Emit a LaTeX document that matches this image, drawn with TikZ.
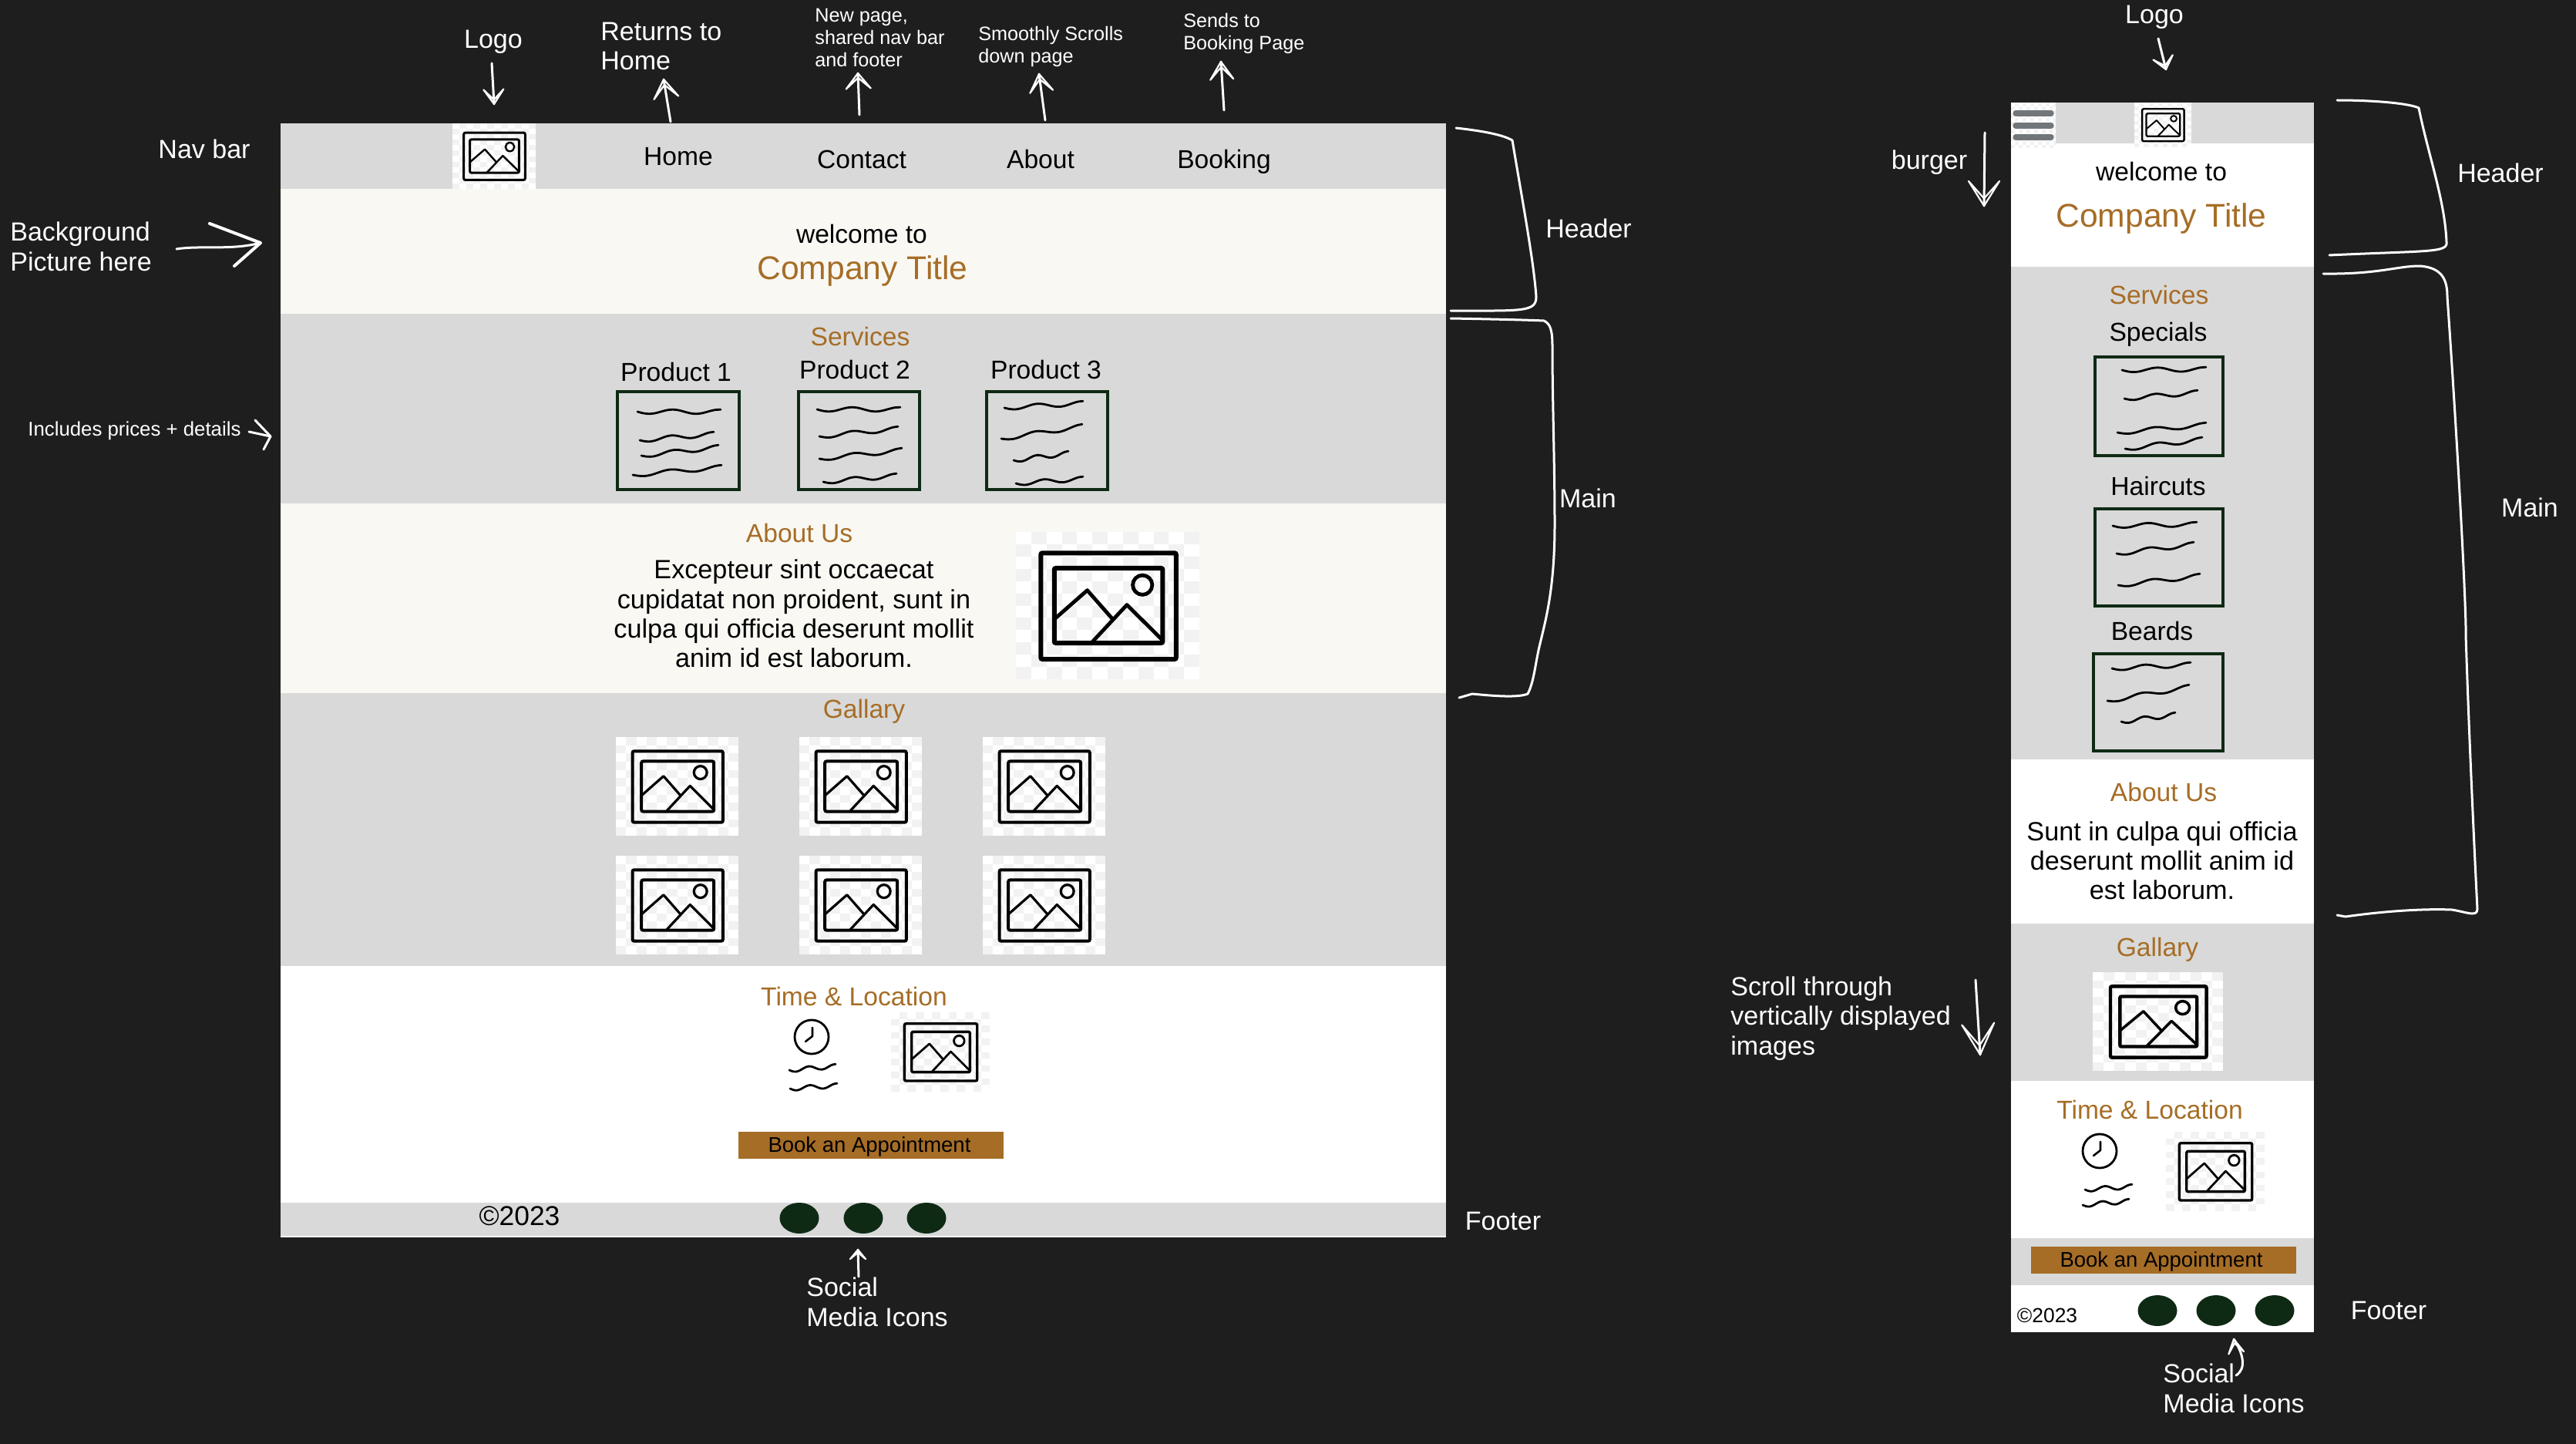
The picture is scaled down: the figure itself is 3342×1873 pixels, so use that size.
\documentclass[tikz,border=0pt]{standalone}
\usepackage{fontspec}
\setmainfont{Liberation Sans}

\definecolor{board}{HTML}{1E1E1E}
\definecolor{band}{HTML}{D9D9D9}
\definecolor{cream}{HTML}{F9F8F3}
\definecolor{brown}{HTML}{A66D26}
\definecolor{leaf}{HTML}{0F2A14}
\definecolor{burgergray}{HTML}{71767A}
\definecolor{checker}{HTML}{F2F2F2}

% placeholder picture: corners of the checker, then line width
\newcommand{\imgicon}[5]{%
	\begin{scope}[shift={(#1,#2)},xscale=#3-#1,yscale=#4-#2]
		\fill[white] (0,0) rectangle (1,1);
		\foreach \i in {0,...,11}{\foreach \j in {0,...,11}{%
			\ifodd\numexpr\i+\j\relax
				\fill[checker] (\i/12,\j/12) rectangle ++(1/12,1/12);
			\fi}}
		\draw[line width=#5, rounded corners=1pt] (.136,.143) rectangle (.873,.864);
		\draw[line width=#5, rounded corners=1pt] (.209,.246) rectangle (.80,.754);
		\draw[line width=.8*#5] (.69,.36) circle [x radius=.053, y radius=.066];
		\draw[line width=.8*#5, line join=round] (.209,.593) -- (.389,.396) -- (.528,.593);
		\draw[line width=.8*#5, line join=round] (.411,.754) -- (.605,.495) -- (.80,.736);
	\end{scope}}
% hand written line inside the text boxes
\newcommand{\squig}[4]{%
	\draw[line width=1.4pt, line cap=round] plot[smooth, samples=15, domain=0:1, variable=\t]
		({#1+(#3-#1)*\t},{#2+(#4-#2)*\t+2.8*sin(640*\t)});}
\newcommand{\clockicon}[2]{%
	\draw[line width=1.4pt] (#1,#2) circle [radius=22];
	\draw[line width=1.3pt, line cap=round, line join=round] (#1+1,#2-12) -- (#1+1,#2-1) -- (#1-8,#2+6);}
% hollow hand drawn arrow head: end point, direction, length, half width
\newcommand{\handtip}[4]{%
	\begin{scope}[shift={(#1)},rotate=#2]
		\draw[sketch, line width=1.1pt] (-#3,#4) -- (0,0) -- (-#3,-#4) -- (-.3*#3,0) -- cycle;
	\end{scope}}

\begin{document}
\begin{tikzpicture}[x=.5pt, y=-.5pt,
	oneline/.style={text height=1.26em, text depth=.18em},
	noteblock/.style={text=white, inner sep=0, align=left, font=\fontsize{17}{19.3}\selectfont},
	note/.style={noteblock, oneline},
	tinynote/.style={noteblock, font=\fontsize{12.6}{14.5}\selectfont},
	bodyblock/.style={text=black, inner sep=0, align=center, font=\fontsize{17.1}{19.1}\selectfont},
	body/.style={bodyblock, oneline, font=\fontsize{16.8}{19}\selectfont},
	heading/.style={body, text=brown},
	title/.style={body, text=brown, font=\fontsize{21.3}{24}\selectfont},
	button/.style={body, font=\fontsize{13.75}{16}\selectfont},
	textbox/.style={draw=leaf, line width=2pt},
	social/.style={fill=leaf},
	sketch/.style={draw=white, line width=1.5pt, line cap=round, line join=round}]
	\useasboundingbox[fill=board] (0,0) rectangle (3342,1873);

	% desktop page
	\fill[band] (364,160) rectangle (1876,245);
	\fill[cream] (364,245) rectangle (1876,407);
	\fill[band] (364,407) rectangle (1876,653);
	\fill[cream] (364,653) rectangle (1876,899);
	\fill[band] (364,899) rectangle (1876,1253);
	\fill[white] (364,1253) rectangle (1876,1605);
	\fill[band] (364,1560) rectangle (1876,1603);
	\imgicon{587}{160}{695}{245}{1.5pt}
	\imgicon{1318}{690}{1556}{881}{3pt}
	\foreach \x in {799,1037,1275}{
		\imgicon{\x}{956}{\x+159}{1084}{2pt}
		\imgicon{\x}{1110}{\x+159}{1238}{2pt}
	}
	\imgicon{1156}{1313}{1284}{1416}{1.7pt}

	% mobile page
	\fill[band] (2609,133) rectangle (3002,186);
	\fill[white] (2609,186) rectangle (3002,346);
	\fill[band] (2609,346) rectangle (3002,985);
	\fill[white] (2609,985) rectangle (3002,1198);
	\fill[band] (2609,1198) rectangle (3002,1402);
	\fill[white] (2609,1402) rectangle (3002,1606);
	\fill[band] (2609,1606) rectangle (3002,1667);
	\fill[white] (2609,1667) rectangle (3002,1728);
	\imgicon{2769}{133}{2843}{191}{1.2pt}
	\imgicon{2715}{1261}{2884}{1389}{2.2pt}
	\imgicon{2810}{1468}{2938}{1571}{1.7pt}
	% burger
	\begin{scope}
		\clip (2609,133) rectangle (2667,191);
		\fill[white] (2609,133) rectangle (2667,191);
		\foreach \i in {0,...,11}{\foreach \j in {0,...,11}{%
			\ifodd\numexpr\i+\j\relax
				\fill[checker] (2609+\i*5,133+\j*5) rectangle ++(5,5);
			\fi}}
	\end{scope}
	\foreach \y in {147,163,178}
		\draw[burgergray, line width=3.7pt, line cap=round] (2615,\y) -- (2661,\y);

	% text boxes
	\draw[textbox] (801,508) rectangle (959,635);
	\draw[textbox] (1036,508) rectangle (1193,635);
	\draw[textbox] (1280,508) rectangle (1437,635);
	\draw[textbox] (2718,463) rectangle (2884,591);
	\draw[textbox] (2718,660) rectangle (2884,786);
	\draw[textbox] (2716,848) rectangle (2884,974);
	\squig{827}{534}{935}{534}\squig{830}{571}{926}{563}\squig{832}{591}{932}{580}\squig{821}{616}{936}{606}
	\squig{1060}{531}{1168}{531}\squig{1063}{566}{1165}{556}\squig{1063}{595}{1170}{584}\squig{1068}{625}{1163}{617}
	\squig{1303}{529}{1405}{523}\squig{1299}{569}{1404}{553}\squig{1315}{597}{1386}{588}\squig{1318}{627}{1405}{621}
	\squig{2753}{480}{2862}{479}\squig{2756}{517}{2851}{509}\squig{2747}{561}{2862}{551}\squig{2757}{582}{2857}{570}
	\squig{2741}{682}{2850}{680}\squig{2746}{718}{2846}{706}\squig{2748}{759}{2854}{747}
	\squig{2740}{867}{2842}{862}\squig{2734}{909}{2840}{891}\squig{2752}{936}{2822}{927}
	\clockicon{1053}{1345}
	\squig{1024}{1388}{1084}{1383}\squig{1025}{1412}{1086}{1408}
	\clockicon{2724}{1493}
	\squig{2705}{1543}{2766}{1539}\squig{2702}{1563}{2762}{1558}

	% buttons and social icons
	\fill[brown] (958,1468) rectangle (1302,1503);
	\fill[brown] (2635,1617) rectangle (2979,1652);
	\foreach \x in {1037,1120,1202}
		\fill[social] (\x,1580) ellipse [x radius=25.5, y radius=20];
	\foreach \x in {2799,2875,2951}
		\fill[social] (\x,1700) ellipse [x radius=25.5, y radius=20];

	% desktop texts
	\node[body] (home) at (880,204) {Home};
	\node[body] (contact) at (1118,208) {Contact};
	\node[body] (about) at (1350,208) {About};
	\node[body] (booking) at (1588,208) {Booking};
	\node[body] (welcome) at (1118,305) {welcome to};
	\node[title] (company) at (1119,352) {Company Title};
	\node[heading] (services) at (1116,438) {Services};
	\node[body] (prodone) at (877,484) {Product 1};
	\node[body] (prodtwo) at (1109,481) {Product 2};
	\node[body] (prodthree) at (1357,481) {Product 3};
	\node[heading] (aboutus) at (1037,693) {About Us};
	\node[bodyblock] (excepteur) at (1030,796) {Excepteur sint occaecat\\cupidatat non proident, sunt in\\culpa qui officia deserunt mollit\\anim id est laborum.};
	\node[heading] (gallary) at (1121,921) {Gallary};
	\node[heading] (timeloc) at (1108,1294) {Time \& Location};
	\node[button] (book) at (1128,1484) {Book an Appointment};
	\node[body, font=\fontsize{17.7}{20}\selectfont] (copy) at (674,1579) {©2023};

	% mobile texts
	\node[body] (mwelcome) at (2804,224) {welcome to};
	\node[title] (mcompany) at (2804,284) {Company Title};
	\node[heading] (mservices) at (2801,384) {Services};
	\node[body] (specials) at (2800,432) {Specials};
	\node[body] (haircuts) at (2800,632) {Haircuts};
	\node[body] (beards) at (2792,820) {Beards};
	\node[heading] (maboutus) at (2807,1029) {About Us};
	\node[bodyblock] (sunt) at (2805,1116) {Sunt in culpa qui officia\\deserunt mollit anim id\\est laborum.};
	\node[heading] (mgallary) at (2799,1230) {Gallary};
	\node[heading] (mtimeloc) at (2789,1441) {Time \& Location};
	\node[button] (mbook) at (2804,1633) {Book an Appointment};
	\node[body, font=\fontsize{13.2}{15}\selectfont] (mcopy) at (2656,1705) {©2023};

	% notes
	\node[note] (logonote) at (640,52) {Logo};
	\node[noteblock, anchor=west] (returns) at (779,60) {Returns to\\Home};
	\node[tinynote, anchor=west] (newpage) at (1057,49) {New page,\\shared nav bar\\and footer};
	\node[tinynote, anchor=west] (smooth) at (1269,60) {Smoothly Scrolls\\down page};
	\node[tinynote, anchor=west] (sends) at (1535,43) {Sends to\\Booking Page};
	\node[note] (navbar) at (265,195) {Nav bar};
	\node[noteblock, anchor=west] (background) at (13,320) {Background\\Picture here};
	\node[tinynote, anchor=west, font=\fontsize{12.9}{14.5}\selectfont] (includes) at (36,559) {Includes prices + details};
	\node[note] (header) at (2061,298) {Header};
	\node[note] (main) at (2060,648) {Main};
	\node[note] (footer) at (1950,1585) {Footer};
	\node[noteblock, anchor=west] (socialnote) at (1046,1689) {Social\\Media Icons};
	\node[note] (mlogonote) at (2795,20) {Logo};
	\node[note] (burger) at (2503,209) {burger};
	\node[note] (mheader) at (3244,226) {Header};
	\node[note] (mmain) at (3282,660) {Main};
	\node[note] (mfooter) at (3099,1701) {Footer};
	\node[noteblock, anchor=west] (scroll) at (2245,1321) {Scroll through\\vertically displayed\\images};
	\node[noteblock, anchor=west] (msocialnote) at (2806,1801) {Social\\Media Icons};

	% arrow ends
	\coordinate (logotail) at (638,82);
	\coordinate (logotip) at (641,135);
	\coordinate (returnstail) at (870,158);
	\coordinate (returnstip) at (861,103);
	\coordinate (newtail) at (1115,149);
	\coordinate (newtip) at (1113,95);
	\coordinate (smoothtail) at (1356,156);
	\coordinate (smoothtip) at (1348,96);
	\coordinate (sendstail) at (1588,143);
	\coordinate (sendstip) at (1584,80);
	\coordinate (bgtail) at (229,323);
	\coordinate (bgtip) at (338,315);
	\coordinate (bgupper) at (272,290);
	\coordinate (bglower) at (304,345);
	\coordinate (inctail) at (323,560);
	\coordinate (inctip) at (351,566);
	\coordinate (incupper) at (331,545);
	\coordinate (inclower) at (342,583);
	\coordinate (socialtail) at (1114,1656);
	\coordinate (socialtip) at (1113,1621);
	\coordinate (mlogotail) at (2800,50);
	\coordinate (mlogotip) at (2810,90);
	\coordinate (burgertail) at (2575,172);
	\coordinate (burgertip) at (2574,267);
	\coordinate (scrolltail) at (2563,1271);
	\coordinate (scrolltip) at (2569,1368);
	\coordinate (msocialtail) at (2901,1784);
	\coordinate (msocialtip) at (2898,1737);

	% edges
	\draw[sketch] (logotail) -- (logotip);
	\handtip{logotip}{-88}{19}{13}
	\draw[sketch] (returnstail) -- (returnstip);
	\handtip{returnstip}{98}{24}{16}
	\draw[sketch] (newtail) -- (newtip);
	\handtip{newtip}{92}{20}{16}
	\draw[sketch] (smoothtail) -- (smoothtip);
	\handtip{smoothtip}{98}{23}{15}
	\draw[sketch] (sendstail) -- (sendstip);
	\handtip{sendstip}{93}{23}{15}
	\draw[sketch] (bgtail) .. controls (260,318) and (300,325) .. (bgtip);
	\draw[sketch, line width=2pt] (bgupper) -- (bgtip) -- (bglower);
	\draw[sketch] (inctail) -- (inctip);
	\draw[sketch] (incupper) -- (inctip) -- (inclower);
	\draw[sketch] (socialtail) -- (socialtip);
	\handtip{socialtip}{90}{12}{10}
	\draw[sketch] (mlogotail) -- (mlogotip);
	\handtip{mlogotip}{-76}{16}{13}
	\draw[sketch] (burgertail) -- (burgertip);
	\handtip{burgertip}{-90}{32}{20}
	\draw[sketch] (scrolltail) -- (scrolltip);
	\handtip{scrolltip}{-86}{40}{21}
	\draw[sketch] (msocialtail) .. controls (2915,1775) and (2910,1755) .. (msocialtip);
	\handtip{msocialtip}{100}{18}{10}

	% braces
	\draw[sketch] (1889,166) .. controls (1925,170) and (1950,175) .. (1962,182)
		.. controls (1975,260) and (1990,340) .. (1993,385)
		.. controls (1993,405) and (1975,403) .. (1882,403);
	\draw[sketch] (1882,413) .. controls (1940,414) and (1980,415) .. (2003,416)
		.. controls (2012,420) and (2014,430) .. (2014,450)
		.. controls (2014,520) and (2017,600) .. (2017,680)
		.. controls (2017,765) and (2005,805) .. (1997,839)
		.. controls (1992,860) and (1990,885) .. (1982,900)
		.. controls (1970,905) and (1940,903) .. (1910,900)
		-- (1893,905);
	\draw[sketch] (3032,130) .. controls (3080,130) and (3125,134) .. (3138,140)
		.. controls (3150,200) and (3172,260) .. (3174,314)
		.. controls (3176,328) and (3150,325) .. (3022,331);
	\draw[sketch] (3014,355) .. controls (3085,356) and (3110,345) .. (3139,345)
		.. controls (3170,347) and (3175,365) .. (3175,385)
		.. controls (3190,600) and (3200,800) .. (3199,824)
		.. controls (3203,950) and (3210,1100) .. (3214,1179)
		.. controls (3214,1190) and (3200,1183) .. (3181,1180)
		.. controls (3130,1178) and (3070,1185) .. (3043,1189)
		-- (3032,1187);
\end{tikzpicture}
\end{document}
